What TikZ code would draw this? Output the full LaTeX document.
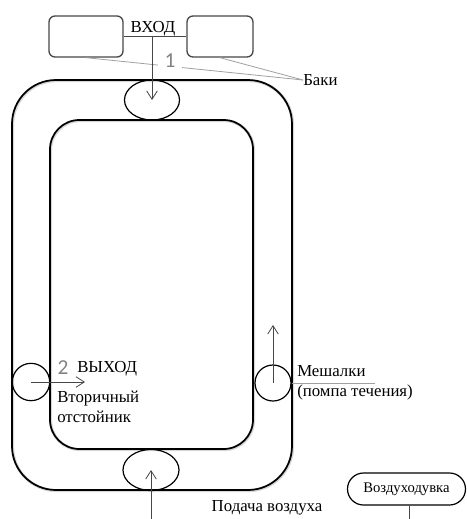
\documentclass[tikz,border=0pt]{standalone}
\usepackage{fontspec}
\setmainfont{Liberation Serif}
\newfontfamily\digitfont{Carlito}
\usetikzlibrary{shapes.geometric, arrows.meta, positioning}
\definecolor{tankgray}{RGB}{70, 70, 70}
\definecolor{leadergray}{RGB}{160, 160, 160}
\definecolor{numgray}{RGB}{130, 130, 130}
\definecolor{shadowgray}{RGB}{215, 215, 215}
\tikzstyle{tank} = [rectangle, rounded corners=4.5pt, minimum height=30.75pt,
                    draw=tankgray, line width=1pt, inner sep=0pt]
\tikzstyle{wall} = [draw=black, line width=1.3pt,
                    preaction={draw=shadowgray, line width=2.2pt, transform canvas={shift={(0.5pt,-0.5pt)}}}]
\tikzstyle{zone} = [ellipse, draw=black, line width=0.9pt, inner sep=0pt]
\tikzstyle{flow} = [-{Straight Barb[length=2.2mm, width=2.8mm]}, draw=tankgray, line width=0.6pt]
\tikzstyle{leader} = [draw=leadergray, line width=0.6pt]
\tikzstyle{txt} = [font=\fontsize{12.6}{15}\selectfont, inner sep=0pt]
\tikzstyle{num} = [font=\digitfont\fontsize{16}{16}\selectfont, text=numgray, inner sep=1pt]

\begin{document}
\begin{tikzpicture}[x=0.75pt, y=-0.75pt]
\useasboundingbox (0,0) rectangle (467,519);

% Channel walls
\draw[wall, rounded corners=33pt] (12,80) rectangle (292,490);
\draw[wall, rounded corners=22pt] (50,120) rectangle (253,449);

% Tanks
\node[tank, minimum width=55.5pt] (lefttank) at (86,36.5) {};
\node[tank, minimum width=49.5pt] (righttank) at (220,36.5) {};
\draw[draw=tankgray, line width=0.8pt] (lefttank) -- (righttank);
\node[txt] (inlet) at (153,28.5) {ВХОД};
\coordinate (feed) at (152,36.5);

% Zones in the channel
\node[zone, minimum width=41.25pt, minimum height=30pt] (topzone) at (152,100) {};
\node[zone, minimum width=42pt, minimum height=30.75pt] (bottomzone) at (151,470) {};
\node[zone, minimum width=28pt, minimum height=28pt] (leftzone) at (31,382) {};
\node[zone, minimum width=27pt, minimum height=27pt] (rightzone) at (273,383) {};

% Labels
\node[txt, anchor=west] (tanks) at (303,80) {Баки};
\node[txt, anchor=west] (outlet) at (77,369) {ВЫХОД};
\node[num] (numtwo) at (63,368) {2};
\node[txt, anchor=west, align=left] (clarifier) at (57,407) {Вторичный\\отстойник};
\node[txt, anchor=west, align=left] (mixers) at (297,383) {Мешалки\\(помпа течения)};
\node[txt] (airfeed) at (267,508) {Подача воздуха};
\node[txt, font=\fontsize{11}{13}\selectfont, draw=black, line width=0.9pt, rounded corners=12pt,
      minimum width=88.5pt, minimum height=24pt] (blower) at (406.5,489) {Воздуходувка};

% Free ends
\coordinate (outflow) at (85,382);
\coordinate (pumpflow) at (273,325);
\coordinate (airin) at (151,519);
\coordinate (mixend) at (375,383);
\coordinate (blowerend) at (409,519);

% Leaders
\draw[leader] (lefttank.south) -- (tanks.west);
\draw[leader] (righttank.south) -- (tanks.west);
\node[num, fill=white, inner sep=5pt] (numone) at (170,61) {1};
\draw[leader] (rightzone.east) -- (mixend);

% Arrows
\draw[flow] (feed) -- (topzone.center);
\draw[flow] (leftzone.center) -- (outflow);
\draw[flow] (rightzone.center) -- (pumpflow);
\draw[flow] (airin) -- (bottomzone.center);
\draw[draw=tankgray, line width=0.6pt] (blower.south -| blowerend) -- (blowerend);

\end{tikzpicture}
\end{document}
